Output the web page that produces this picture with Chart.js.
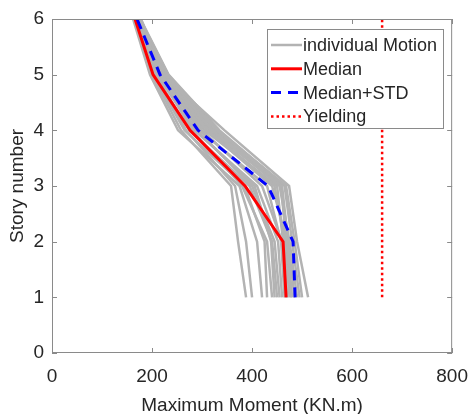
<!DOCTYPE html>
<html lang="en">
<head>
    <meta charset="UTF-8">
    <title>Maximum Moment per Story</title>
    <script src="https://cdn.jsdelivr.net/npm/chart.js"></script>
    <style>
        html, body { margin: 0; padding: 0; background: #fff; }
        #wrap { width: 472px; height: 414px; }
    </style>
</head>
<body>
    <div id="wrap"><canvas id="momentChart" width="472" height="414"></canvas></div>

    <script>
        // Story levels (y axis)
        const stories = [1, 2, 3, 4, 5, 6];

        // Maximum moment for each ground motion, story 1..6 (KN.m)
        const motions = [
            [388, 372, 358, 258, 200, 164],
            [400, 388, 366, 268, 208, 168],
            [420, 410, 375, 252, 196, 162],
            [440, 430, 380, 280, 215, 170],
            [455, 445, 400, 290, 212, 166],
            [470, 460, 420, 300, 220, 172],
            [480, 470, 440, 310, 225, 168],
            [490, 475, 455, 320, 228, 174],
            [512, 490, 474, 345, 222, 178],
            [500, 485, 468, 330, 232, 176],
            [465, 458, 430, 295, 218, 170],
            [460, 452, 410, 285, 210, 165],
            [475, 465, 445, 315, 226, 172],
            [450, 440, 395, 275, 206, 163],
            [485, 472, 460, 325, 230, 175],
            [430, 425, 385, 265, 202, 164],
            [495, 480, 465, 335, 233, 177],
            [470, 462, 450, 305, 222, 171],
            [445, 438, 405, 288, 214, 167],
            [478, 468, 458, 318, 227, 173]
        ];

        const median = [468, 462, 386, 276, 202, 166];
        const medianStd = [486, 482, 432, 292, 216, 170];
        const yielding = [660, 660, 660, 660, 660, 660];

        const xTicks = [0, 200, 400, 600, 800];
        const yTicks = [0, 1, 2, 3, 4, 5, 6];

        const toPoints = vals => vals.map((v, i) => ({ x: v, y: stories[i] }));

        const datasets = motions.map((m, i) => ({
            label: 'individual Motion',
            data: toPoints(m),
            borderColor: '#b3b3b3',
            borderWidth: 2.5,
            pointRadius: 0,
            order: 10,
            legendShow: i === 0
        }));
        datasets.push({
            label: 'Median', data: toPoints(median),
            borderColor: '#ff0000', borderWidth: 3, pointRadius: 0, order: 2, legendShow: true
        });
        datasets.push({
            label: 'Median+STD', data: toPoints(medianStd),
            borderColor: '#0000ff', borderWidth: 3, borderDash: [10, 7], pointRadius: 0, order: 1, legendShow: true
        });
        datasets.push({
            label: 'Yielding', data: toPoints(yielding),
            borderColor: '#ff0000', borderWidth: 2.5, borderDash: [2.5, 3], pointRadius: 0, order: 3, legendShow: true
        });

        const FONT = '"Liberation Sans", Arial, sans-serif';
        const AXIS = '#8a8a8a';
        const TEXT = '#262626';

        // box around the axes with inward ticks, MATLAB style
        const boxPlugin = {
            id: 'box',
            afterDatasetsDraw(chart) {
                const { ctx, chartArea: a, scales } = chart;
                ctx.save();
                ctx.strokeStyle = AXIS;
                ctx.lineWidth = 1;
                ctx.strokeRect(a.left + 0.5, a.top + 0.5, a.right - a.left - 1, a.bottom - a.top - 1);
                ctx.beginPath();
                xTicks.forEach(t => {
                    const px = Math.round(scales.x.getPixelForValue(t)) + 0.5;
                    ctx.moveTo(px, a.bottom); ctx.lineTo(px, a.bottom - 5);
                    ctx.moveTo(px, a.top); ctx.lineTo(px, a.top + 5);
                });
                yTicks.forEach(t => {
                    const py = Math.round(scales.y.getPixelForValue(t)) + 0.5;
                    ctx.moveTo(a.left, py); ctx.lineTo(a.left + 5, py);
                    ctx.moveTo(a.right, py); ctx.lineTo(a.right - 5, py);
                });
                ctx.stroke();
                ctx.restore();
            }
        };

        // legend box inside the plot, top right
        const legendPlugin = {
            id: 'boxLegend',
            afterDraw(chart) {
                const { ctx } = chart;
                const items = chart.data.datasets.filter(d => d.legendShow);
                const x0 = 267, y0 = 29, w = 176, h = 99, rowH = 23.8;
                ctx.save();
                ctx.fillStyle = '#fff';
                ctx.fillRect(x0, y0, w, h);
                ctx.strokeStyle = AXIS;
                ctx.lineWidth = 1;
                ctx.strokeRect(x0 + 0.5, y0 + 0.5, w, h);
                ctx.font = '18px ' + FONT;
                ctx.textBaseline = 'middle';
                items.forEach((d, i) => {
                    const cy = y0 + 16 + i * rowH;
                    ctx.beginPath();
                    ctx.strokeStyle = d.borderColor;
                    ctx.lineWidth = d.borderWidth;
                    ctx.setLineDash(d.borderDash || []);
                    ctx.moveTo(x0 + 4, cy);
                    ctx.lineTo(x0 + 35, cy);
                    ctx.stroke();
                    ctx.setLineDash([]);
                    ctx.fillStyle = TEXT;
                    ctx.fillText(d.label, x0 + 36, cy + 1);
                });
                ctx.restore();
            }
        };

        new Chart(document.getElementById('momentChart'), {
            type: 'line',
            data: { datasets },
            options: {
                responsive: false,
                animation: false,
                layout: { padding: { top: 19, right: 19, left: 0, bottom: 0 } },
                plugins: {
                    legend: { display: false },
                    tooltip: { enabled: false }
                },
                scales: {
                    x: {
                        type: 'linear', min: 0, max: 800,
                        afterBuildTicks: s => { s.ticks = xTicks.map(v => ({ value: v })); },
                        afterFit: s => { s.height = 61; },
                        grid: { display: false },
                        border: { display: false },
                        ticks: { color: TEXT, font: { family: FONT, size: 19 }, padding: 4, maxRotation: 0 },
                        title: {
                            display: true, text: 'Maximum Moment (KN.m)', color: TEXT,
                            font: { family: FONT, size: 19 }, padding: { top: 0, bottom: -3 }
                        }
                    },
                    y: {
                        type: 'linear', min: 0, max: 6,
                        afterBuildTicks: s => { s.ticks = yTicks.map(v => ({ value: v })); },
                        afterFit: s => { s.width = 52; },
                        grid: { display: false },
                        border: { display: false },
                        ticks: { color: TEXT, font: { family: FONT, size: 19 }, padding: 0 },
                        title: {
                            display: true, text: 'Story number', color: TEXT,
                            font: { family: FONT, size: 19 }, padding: { top: 6, bottom: 0 }
                        }
                    }
                }
            },
            plugins: [boxPlugin, legendPlugin]
        });
    </script>
</body>
</html>
